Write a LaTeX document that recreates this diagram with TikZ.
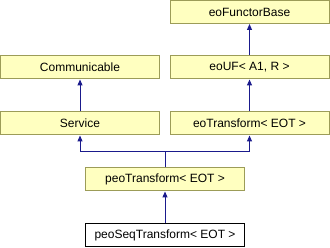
\documentclass[tikz,border=0pt]{standalone}
\usepackage{fontspec}
\setmainfont{Liberation Sans}
\usetikzlibrary{arrows.meta}
\definecolor{boxfill}{HTML}{FFFFC0}
\definecolor{boxline}{HTML}{9C9C58}
\definecolor{edgecol}{HTML}{1A1A8C}
\begin{document}
\begin{tikzpicture}[x=1pt,y=-1pt,
  cls/.style={draw=boxline,fill=boxfill,line width=1pt,minimum width=159pt,minimum height=23pt,inner sep=0pt,font=\fontsize{12}{14}\selectfont},
  cur/.style={draw=black,fill=white,line width=1pt,minimum width=159pt,minimum height=23pt,inner sep=0pt,font=\fontsize{12}{14}\selectfont},
  inh/.style={draw=edgecol,line width=1pt,-{Triangle[width=5pt,length=6pt]}}]
\useasboundingbox (0,0) rectangle (330,248);
\node[cls] (base) at (249.5,12) {eoFunctorBase};
\node[cls] (comm) at (80,67.5) {Communicable};
\node[cls] (uf) at (249.5,67.5) {eoUF< A1, R >};
\node[cls] (serv) at (80,123.5) {Service};
\node[cls] (eot) at (249.5,123.5) {eoTransform< EOT >};
\node[cls] (peot) at (165,179.5) {peoTransform< EOT >};
\node[cur] (seq) at (165,235.5) {peoSeqTransform< EOT >};
\coordinate (j) at (165,152);
\draw[inh] (uf) -- (base);
\draw[inh] (eot) -- (uf);
\draw[inh] (serv) -- (comm);
\draw[inh] (seq) -- (peot);
\draw[draw=edgecol,line width=1pt] (peot.north) -- (j);
\draw[inh] (j) -| (serv.south);
\draw[inh] (j) -| (eot.south);
\end{tikzpicture}
\end{document}
